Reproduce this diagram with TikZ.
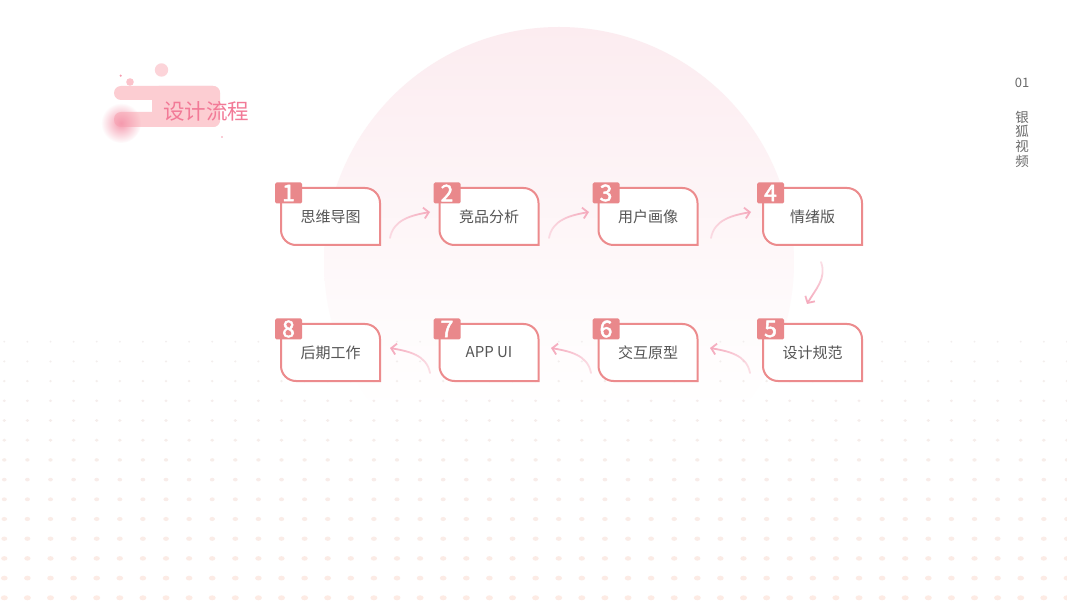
\documentclass[tikz,border=0pt]{standalone}
\usepackage{fontspec}
\newfontfamily\cjk{Noto Sans CJK SC}
\newfontfamily\cjkbold[FakeBold=2.2]{Noto Sans CJK SC}
\usetikzlibrary{arrows.meta,fadings}
\definecolor{boxc}{HTML}{EC8B8D}
\definecolor{tagc}{HTML}{E9888B}
\definecolor{txtc}{HTML}{555555}
\definecolor{arrc}{HTML}{F5A9BC}
\definecolor{titc}{HTML}{F27A97}
\definecolor{barc}{HTML}{FCCDD2}
\definecolor{blobc}{HTML}{F59AAE}
\definecolor{circc}{HTML}{FCECF0}
\definecolor{dotA}{HTML}{F2EEEE}
\definecolor{dotB}{HTML}{FDEBE4}
\definecolor{sidec}{HTML}{6A6A6A}
\tikzfading[name=blobfade, inner color=transparent!0, outer color=transparent!100]
\tikzfading[name=fadeR, left color=transparent!65, right color=transparent!0]
\tikzfading[name=fadeL, left color=transparent!0, right color=transparent!65]
\tikzfading[name=fadeD, top color=transparent!65, bottom color=transparent!0]
\pgfdeclarelayer{bg}
\pgfdeclarelayer{mid}
\pgfsetlayers{bg,mid,main}
\newcommand\flowshape[1]{\draw[boxline] (#1.north west) -- ([xshift=-15pt]#1.north east) arc[start angle=90,end angle=0,radius=15pt] -- (#1.south east) -- ([xshift=15pt]#1.south west) arc[start angle=270,end angle=180,radius=15pt] -- cycle;}
\begin{document}
\begin{tikzpicture}[x=1pt,y=1pt,
 stepbox/.style={minimum width=99pt,minimum height=57pt,inner sep=0pt,outer sep=0pt,text=txtc,font=\cjk\fontsize{15}{16}\selectfont},
 boxline/.style={draw=boxc,line width=2pt,fill=white},
 tagbox/.style={fill=tagc,text=white,minimum width=27pt,minimum height=21pt,inner sep=0pt,rounded corners=1.5pt,font=\cjkbold\fontsize{23}{23}\selectfont},
 flow/.style={draw=arrc,line width=1.8pt,line cap=round,-{Straight Barb[length=5pt,width=11pt]}}]
\useasboundingbox (0,0) rectangle (1067,600);
\begin{pgfonlayer}{bg}
\fill[white] (0,0) rectangle (1067,600);
% big circle, fading out towards its lower part
\begin{scope}
  \clip (559,338) circle (235);
  \shade[top color=circc, bottom color=white] (320,190) rectangle (800,575);
\end{scope}
% dot grid
\foreach \k in {0,...,13}{
  \pgfmathtruncatemacro\pc{100*\k/13}
  \pgfmathsetmacro\rx{1+2.5*\k/13}
  \pgfmathsetmacro\ry{1+1.5*\k/13}
  \foreach \j in {0,...,46}{
    \fill[dotB!\pc!dotA] ({4.3+23.1*\j},{258.3-19.7*\k}) ellipse[x radius=\rx, y radius=\ry];
  }
}
% title decoration
\fill[barc, rounded corners=7pt] (114,500) rectangle (220,514);
\fill[barc, rounded corners=7pt] (114,473) rectangle (220,488);
\fill[barc, rounded corners=7pt] (152,473) rectangle (220,514);
\fill[blobc, path fading=blobfade] (121,477) circle (20);
\fill[barc!85!white] (161.5,530) circle (6.7);
\fill[barc!80!blobc] (130,518) circle (3.8);
\fill[blobc] (120.7,524.3) circle (1.2);
\fill[blobc] (222,463) circle (0.9);
\end{pgfonlayer}

\node[font=\cjk\fontsize{21.5}{22}\selectfont, text=titc] (title) at (206,488.5) {设计流程};
\node[font=\cjk\fontsize{13}{13}\selectfont, text=sidec] (num) at (1022,517) {01};
\node[font=\cjk\fontsize{13.5}{14.7}\selectfont, text=sidec, align=center] (side) at (1022,461) {银\\狐\\视\\频};

% boxes
\node[stepbox] (b1) at (330.5,383.5) {思维导图};
\node[stepbox] (b2) at (489,383.5) {竞品分析};
\node[stepbox] (b3) at (648,383.5) {用户画像};
\node[stepbox] (b4) at (812.5,383.5) {情绪版};
\node[stepbox] (b5) at (812.5,247.5) {设计规范};
\node[stepbox] (b6) at (648,247.5) {交互原型};
\node[stepbox] (b7) at (489,247.5) {APP UI};
\node[stepbox] (b8) at (330.5,247.5) {后期工作};
\begin{pgfonlayer}{mid}
\foreach \b in {b1,b2,b3,b4,b5,b6,b7,b8}{\flowshape{\b}}
\end{pgfonlayer}
\foreach \i in {1,...,8}{
  \node[tagbox] (t\i) at ([shift={(7.5pt,-5pt)}]b\i.north west) {\i};
}

% connectors
\coordinate (c12a) at ([shift={(10pt,7pt)}]b1.south east);
\coordinate (c12b) at ([shift={(-9.5pt,4.5pt)}]b2.west);
\coordinate (c23a) at ([shift={(10.5pt,7pt)}]b2.south east);
\coordinate (c23b) at ([shift={(-9.5pt,4.5pt)}]b3.west);
\coordinate (c34a) at ([shift={(13.5pt,7pt)}]b3.south east);
\coordinate (c34b) at ([shift={(-12pt,4.5pt)}]b4.west);
\coordinate (c45a) at ([shift={(8.5pt,-17pt)}]b4.south);
\coordinate (c45b) at ([shift={(-5.5pt,20pt)}]b5.north);
\coordinate (c56a) at ([shift={(-13pt,8pt)}]b5.south west);
\coordinate (c56b) at ([shift={(12.5pt,4.5pt)}]b6.east);
\coordinate (c67a) at ([shift={(-7.5pt,8pt)}]b6.south west);
\coordinate (c67b) at ([shift={(12.5pt,4.5pt)}]b7.east);
\coordinate (c78a) at ([shift={(-9.5pt,8pt)}]b7.south west);
\coordinate (c78b) at ([shift={(10pt,4.5pt)}]b8.east);
\draw[flow, path fading=fadeR] (c12a) to[out=80,in=190] (c12b);
\draw[flow, path fading=fadeR] (c23a) to[out=80,in=190] (c23b);
\draw[flow, path fading=fadeR] (c34a) to[out=80,in=190] (c34b);
\draw[flow, path fading=fadeD] (c45a) to[out=-70,in=60] (c45b);
\draw[flow, path fading=fadeL] (c56a) to[out=100,in=-10] (c56b);
\draw[flow, path fading=fadeL] (c67a) to[out=100,in=-10] (c67b);
\draw[flow, path fading=fadeL] (c78a) to[out=100,in=-10] (c78b);
\end{tikzpicture}
\end{document}
